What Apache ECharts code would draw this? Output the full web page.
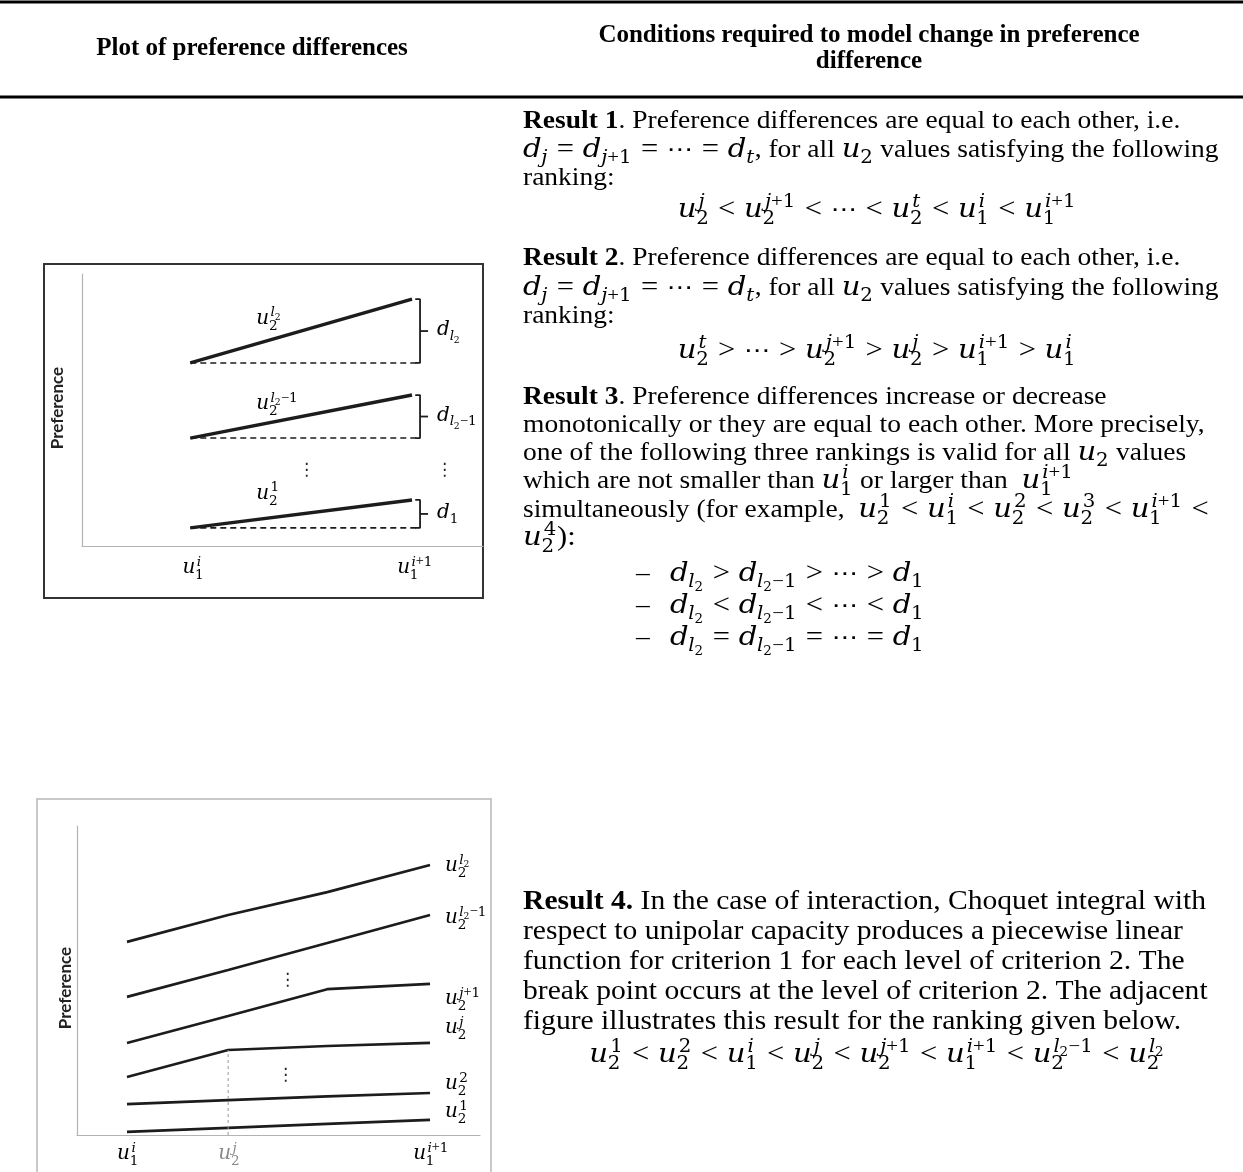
<!DOCTYPE html>
<html><head><meta charset="utf-8">
<script src="https://cdn.jsdelivr.net/npm/echarts@6/dist/echarts.min.js"></script>
<style>html,body{margin:0;padding:0;background:#fff}#c{width:1243px;height:1172px}</style>
</head><body><div id="c"></div>
<script>
// ===== DATA =====
// Chart 1 (Results 1-3): preference lines between u1^i and u1^{i+1}
const c1TickX = [0.27, 0.823];                 // x positions of u1^i, u1^{i+1}
const c1TickLabels = ['u_1^i', 'u_1^{i+1}'];
const c1Start = [6.68, 3.94, 0.66];            // preference at u1^i
const c1End = [9.01, 5.51, 1.68];              // preference at u1^{i+1}
const c1LineLabels = ['u_2^{l_2}', 'u_2^{l_2-1}', 'u_2^1'];
const c1DiffLabels = ['d_{l_2}', 'd_{l_2-1}', 'd_1'];
const c1BracketX = 0.843;

// Chart 2 (Result 4): piecewise linear functions
const c2X = [0.124, 0.375, 0.621, 0.876];      // u1^i, u2^j, u2^{j+1}, u1^{i+1}
const c2TickX = [0.124, 0.375, 0.876];
const c2TickLabels = ['u_1^i', 'u_2^j', 'u_1^{i+1}'];
const c2Lines = [
  [6.25, 7.12, 7.86, 8.74],   // u2^{l2}
  [4.47, 5.34, 6.21, 7.12],   // u2^{l2-1}
  [2.98, 3.85, 4.72, 4.89],   // u2^{j+1}
  [1.88, 2.75, 2.88, 2.98],   // u2^j
  [1.00, 1.13, 1.25, 1.36],   // u2^2
  [0.10, 0.23, 0.36, 0.49]    // u2^1
];
const c2LineLabels = ['u_2^{l_2}', 'u_2^{l_2-1}', 'u_2^{j+1}', 'u_2^j', 'u_2^2', 'u_2^1'];

// ===== FONTS / SIZES =====
const TS = 25.5, TSX = 27.5 / 25.5;   // body text: vertical size, horizontal stretch
const TS4 = 27.5, TS4X = 29.6 / 27.5; // Result 4 text
const MS = 26, MSX = 1.12;            // math in body
const HS = 25, CS = 20;
const SERIF = '"Liberation Serif", serif';
const VARF = '"DejaVu Serif", serif';
const NUMF = '"DejaVu Serif", serif';
const RELF = '"Liberation Serif", serif';
const DOTF = '"DejaVu Sans", sans-serif';

const cv = document.createElement('canvas').getContext('2d');
function fstr(style, weight, size, fam) { return style + ' ' + weight + ' ' + size + 'px ' + fam; }
function tw(s, style, weight, size, fam) { cv.font = fstr(style, weight, size, fam); return cv.measureText(s).width; }
function txt(s, x, base, style, weight, size, fam, color, sx) {
  return { type: 'text', silent: true, z: 10, x: x, y: base, scaleX: sx || 1,
    style: { text: s, x: 0, y: -size * 0.34, fontStyle: style, fontWeight: weight, fontSize: size,
      fontFamily: fam, fill: color || '#000', align: 'left', verticalAlign: 'middle' } };
}

// ---- tiny math layout ----
function parseMath(s) {
  let i = 0;
  function seq(end) {
    const out = [];
    while (i < s.length) {
      const c = s[i];
      if (c === end) { i++; break; }
      if (c === ' ') { i++; continue; }
      let a;
      if (c === '{') { i++; a = { group: seq('}') }; }
      else if (s.startsWith('\\cdots', i)) { i += 6; a = { ch: '\u22EF' }; }
      else { i++; a = { ch: c }; }
      while (s[i] === '_' || s[i] === '^') {
        const k = s[i]; i++;
        let g;
        if (s[i] === '{') { i++; g = seq('}'); } else { g = [{ ch: s[i] }]; i++; }
        if (k === '_') a.sub = g; else a.sup = g;
      }
      out.push(a);
    }
    return out;
  }
  return seq(null);
}
function cls(c) {
  if (/[a-zA-Z]/.test(c)) return 'var';
  if ('<>='.includes(c)) return 'rel';
  if ('+-\u2212'.includes(c)) return 'bin';
  if (/[0-9]/.test(c)) return 'num';
  if (c === '\u22EF') return 'dots';
  return 'punct';
}
function layoutSeq(atoms, x, base, size, level, els, color, sx) {
  for (const a of atoms) {
    if (a.group) { x = layoutSeq(a.group, x, base, size, level, els, color, sx); }
    else {
      let ch = a.ch; if (ch === '-') ch = '\u2212';
      const k = cls(ch);
      let sp = 0;
      if (k === 'rel' && level === 0) sp = size * 0.3 * sx;
      if (k === 'bin' && level === 0) sp = size * 0.22 * sx;
      let st = '', fam = NUMF, sz = size;
      if (k === 'var') { st = 'italic'; fam = VARF; }
      else if (k === 'rel' || k === 'bin' || k === 'punct') { fam = RELF; sz = size * 1.05; }
      else if (k === 'dots') { fam = DOTF; sz = size * 0.9; }
      x += sp;
      els.push(txt(ch, x, base, st, 'normal', sz, fam, color, sx));
      x += tw(ch, st, 'normal', sz, fam) * sx + sp;
    }
    if (a.sub || a.sup) {
      const ss = size * 0.68;
      let x1 = x, x2 = x;
      if (a.sup) x1 = layoutSeq(a.sup, x + size * 0.07 * sx, base - size * (a.sub ? 0.42 : 0.4), ss, level + 1, els, color, sx);
      if (a.sub) x2 = layoutSeq(a.sub, x - size * 0.01 * sx, base + size * (a.sup ? 0.24 : 0.2), ss, level + 1, els, color, sx);
      x = Math.max(x1, x2) + size * 0.02 * sx;
    }
  }
  return x;
}
function mathAt(str, x, base, size, els, color, sx) { return layoutSeq(parseMath(str), x, base, size, 0, els, color, sx || 1); }
function mathCentered(str, cx, base, size, els, color, sx) {
  const tmp = [];
  const w = mathAt(str, 0, base, size, tmp, color, sx);
  return mathAt(str, cx - w / 2, base, size, els, color, sx);
}
function line(segs, x, base, els, ts, tsx) {
  ts = ts || TS; tsx = tsx || TSX;
  for (const s of segs) {
    if (s[0] === 'm') x = mathAt(s[1], x, base, MS, els, '#000', MSX);
    else {
      const w = s[0] === 'b' ? 'bold' : 'normal';
      els.push(txt(s[1], x, base, '', w, ts, SERIF, '#000', tsx));
      x += tw(s[1], '', w, ts, SERIF) * tsx;
    }
  }
  return x;
}
function centeredText(s, cx, base, size, weight, els) {
  const w = tw(s, '', weight, size, SERIF);
  els.push(txt(s, cx - w / 2, base, '', weight, size, SERIF, '#000', 1));
}

// ===== CHART =====
const axisCommon = {
  type: 'value', axisTick: { show: false }, axisLabel: { show: false }, splitLine: { show: false },
  axisLine: { show: true, onZero: false, lineStyle: { color: '#b3b3b3', width: 1.2 } }
};
const series = [];
const dark = '#1c1c1c';
c1Start.forEach((s, i) => {
  series.push({ type: 'line', xAxisIndex: 0, yAxisIndex: 0, symbol: 'none', silent: true,
    lineStyle: { color: dark, width: 3.4 }, data: [[c1TickX[0], s], [c1TickX[1], c1End[i]]] });
  series.push({ type: 'line', xAxisIndex: 0, yAxisIndex: 0, symbol: 'none', silent: true,
    lineStyle: { color: dark, width: 1.6, type: [6, 4] }, data: [[c1TickX[0], s], [c1BracketX, s]] });
  series.push({ type: 'line', xAxisIndex: 0, yAxisIndex: 0, symbol: 'none', silent: true,
    lineStyle: { color: dark, width: 1.8 },
    data: [[c1BracketX - 0.012, c1End[i]], [c1BracketX, c1End[i]], [c1BracketX, s], [c1BracketX - 0.012, s]] });
  series.push({ type: 'line', xAxisIndex: 0, yAxisIndex: 0, symbol: 'none', silent: true,
    lineStyle: { color: dark, width: 1.8 },
    data: [[c1BracketX, (s + c1End[i]) / 2], [c1BracketX + 0.02, (s + c1End[i]) / 2]] });
});
c2Lines.forEach((ys) => {
  series.push({ type: 'line', xAxisIndex: 1, yAxisIndex: 1, symbol: 'none', silent: true,
    lineStyle: { color: dark, width: 2.6 }, data: ys.map((y, k) => [c2X[k], y]) });
});
series.push({ type: 'line', xAxisIndex: 1, yAxisIndex: 1, symbol: 'none', silent: true,
  lineStyle: { color: '#9a9a9a', width: 1, type: [3, 3] }, data: [[c2X[1], 0], [c2X[1], c2Lines[3][1]]] });

const chart = echarts.init(document.getElementById('c'), null, { renderer: 'canvas' });
chart.setOption({
  animation: false,
  backgroundColor: '#fff',
  grid: [
    { left: 82, top: 274, width: 401, height: 272 },
    { left: 77, top: 826, width: 403, height: 309 }
  ],
  xAxis: [Object.assign({ gridIndex: 0, min: 0, max: 1 }, axisCommon), Object.assign({ gridIndex: 1, min: 0, max: 1 }, axisCommon)],
  yAxis: [Object.assign({ gridIndex: 0, min: 0, max: 10 * 272 / 274 }, axisCommon), Object.assign({ gridIndex: 1, min: 0, max: 10 }, axisCommon)],
  series: series
});

// ===== GRAPHIC (table, text) =====
const els = [];
els.push({ type: 'line', silent: true, shape: { x1: 0, y1: 2, x2: 1243, y2: 2 }, style: { stroke: '#000', lineWidth: 3 } });
els.push({ type: 'line', silent: true, shape: { x1: 0, y1: 97, x2: 1243, y2: 97 }, style: { stroke: '#000', lineWidth: 3 } });
centeredText('Plot of preference differences', 252, 57, HS, 'bold', els);
centeredText('Conditions required to model change in preference', 869, 44, HS, 'bold', els);
centeredText('difference', 869, 70, HS, 'bold', els);

// boxes
els.push({ type: 'rect', silent: true, shape: { x: 44, y: 264, width: 439, height: 334 }, style: { fill: 'none', stroke: '#333', lineWidth: 2 } });
els.push({ type: 'rect', silent: true, shape: { x: 37, y: 799, width: 454, height: 440 }, style: { fill: 'none', stroke: '#b8b8b8', lineWidth: 1.5 } });
// axis names
els.push({ type: 'text', silent: true, x: 58, y: 408, rotation: Math.PI / 2,
  style: { text: 'Preference', x: 0, y: 0, align: 'center', verticalAlign: 'middle', fontSize: 17, fontWeight: 'bold', fontFamily: 'Lato', fill: '#222' } });
els.push({ type: 'text', silent: true, x: 66, y: 988, rotation: Math.PI / 2,
  style: { text: 'Preference', x: 0, y: 0, align: 'center', verticalAlign: 'middle', fontSize: 17, fontWeight: 'bold', fontFamily: 'Lato', fill: '#222' } });

// chart 1 labels
const p = (g, xy) => chart.convertToPixel({ gridIndex: g }, xy);
c1TickX.forEach((v, i) => mathCentered(c1TickLabels[i], p(0, [v, 0])[0] + 3, 575, CS, els, '#000', 1));
c1LineLabels.forEach((lab, i) => {
  const a = p(0, [c1TickX[0], c1Start[i]]);
  mathAt(lab, a[0] + 66, a[1] - 37 + (i === 0 ? 0 : 10), CS, els, '#000', 1);
});
c1DiffLabels.forEach((lab, i) => {
  const a = p(0, [c1BracketX, (c1Start[i] + c1End[i]) / 2]);
  mathAt(lab, a[0] + 17, a[1] + 6, CS, els, '#000', 1);
});
[[306, 470], [444, 470]].forEach(q => els.push(txt('\u22EE', q[0] - 8, q[1] + 6, '', 'normal', 17, DOTF, '#222', 1)));

// chart 2 labels
c2TickX.forEach((v, i) => mathCentered(c2TickLabels[i], p(1, [v, 0])[0] + 1, 1161, CS, els, i === 1 ? '#8a8a8a' : '#000', 1));
const c2LabBase = [873, 925, 1006, 1035, 1091, 1119];
c2LineLabels.forEach((lab, i) => mathAt(lab, 445, c2LabBase[i], CS, els, '#000', 1));
[[287, 980], [285, 1075]].forEach(q => els.push(txt('\u22EE', q[0] - 8, q[1] + 6, '', 'normal', 17, DOTF, '#222', 1)));

// ===== right column text =====
const L = 523;
line([['b', 'Result 1'], ['r', '. Preference differences are equal to each other, i.e.']], L, 130, els);
line([['m', 'd_j = d_{j+1} = \\cdots = d_t'], ['r', ', for all '], ['m', 'u_2'], ['r', ' values satisfying the following']], L, 159, els);
line([['r', 'ranking:']], L, 187, els);
mathCentered('u_2^j < u_2^{j+1} < \\cdots < u_2^t < u_1^i < u_1^{i+1}', 877, 219, MS, els, '#000', MSX);

line([['b', 'Result 2'], ['r', '. Preference differences are equal to each other, i.e.']], L, 267, els);
line([['m', 'd_j = d_{j+1} = \\cdots = d_t'], ['r', ', for all '], ['m', 'u_2'], ['r', ' values satisfying the following']], L, 297, els);
line([['r', 'ranking:']], L, 325, els);
mathCentered('u_2^t > \\cdots > u_2^{j+1} > u_2^j > u_1^{i+1} > u_1^i', 877, 360, MS, els, '#000', MSX);

line([['b', 'Result 3'], ['r', '. Preference differences increase or decrease']], L, 406, els);
line([['r', 'monotonically or they are equal to each other. More precisely,']], L, 434, els);
line([['r', 'one of the following three rankings is valid for all '], ['m', 'u_2'], ['r', ' values']], L, 462, els);
line([['r', 'which are not smaller than '], ['m', 'u_1^i'], ['r', ' or larger than  '], ['m', 'u_1^{i+1}']], L, 490, els);
line([['r', 'simultaneously (for example,  '], ['m', 'u_2^1 < u_1^i < u_2^2 < u_2^3 < u_1^{i+1} <']], L, 519, els);
line([['m', 'u_2^4):']], L, 547, els);
const bullets = ['d_{l_2} > d_{l_2-1} > \\cdots > d_1', 'd_{l_2} < d_{l_2-1} < \\cdots < d_1', 'd_{l_2} = d_{l_2-1} = \\cdots = d_1'];
[583, 615, 647].forEach((b, i) => {
  els.push(txt('\u2013', 636, b, '', 'normal', TS, SERIF, '#000', TSX));
  mathAt(bullets[i], 670, b, MS, els, '#000', MSX);
});

line([['b', 'Result 4.'], ['r', ' In the case of interaction, Choquet integral with']], L, 911, els, TS4, TS4X);
line([['r', 'respect to unipolar capacity produces a piecewise linear']], L, 941, els, TS4, TS4X);
line([['r', 'function for criterion 1 for each level of criterion 2. The']], L, 971, els, TS4, TS4X);
line([['r', 'break point occurs at the level of criterion 2. The adjacent']], L, 1001, els, TS4, TS4X);
line([['r', 'figure illustrates this result for the ranking given below.']], L, 1031, els, TS4, TS4X);
mathCentered('u_2^1 < u_2^2 < u_1^i < u_2^j < u_2^{j+1} < u_1^{i+1} < u_2^{l_2-1} < u_2^{l_2}', 877, 1064, MS, els, '#000', MSX);

chart.setOption({ graphic: { elements: els } });
</script></body></html>
